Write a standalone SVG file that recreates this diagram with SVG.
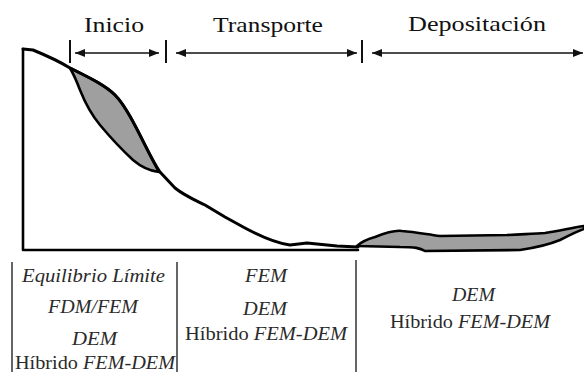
<svg xmlns="http://www.w3.org/2000/svg" width="584" height="372" viewBox="0 0 584 372">
<style>
.hdr{font-family:'Liberation Serif','Times New Roman','DejaVu Serif',serif;font-size:22px;fill:#111}
.lbl{font-family:'Liberation Serif','Times New Roman','DejaVu Serif',serif;font-size:18px;font-style:italic;fill:#2a2a2a}
.up{font-style:normal}
.ln{fill:none;stroke:#000;stroke-linecap:round;stroke-linejoin:round}
.arr{stroke:#111;stroke-width:1.6;fill:none}
.tick{stroke:#111;stroke-width:2}
.sep{stroke:#333;stroke-width:1.5}
.mass{fill:#9f9f9f;stroke:#000;stroke-width:2.6;stroke-linejoin:round}
</style>
<defs>
<marker id="ah" viewBox="0 0 10 8" refX="10" refY="4" markerWidth="10" markerHeight="8" markerUnits="userSpaceOnUse" orient="auto-start-reverse">
<path d="M0,0 L10,4 L0,8 Z" fill="#111"/>
</marker>
</defs>
<g id="profile">
<path class="mass" d="M70,68 C 90,78 105,85 115,95 C 125,105 135,125 145,145 C 150,155 155,165 159,172 C 150,171 140,166 133,160 C 120,148 110,137 100,125 C 90,113 84,100 80,90 C 77,82 74,75 70,68 Z"/>
<path class="mass" d="M357,246 C 362,241 368,239 375,237 C 385,233 395,230 402,231 C 415,232 425,234 440,236 L 507,235 C 525,234 535,234 545,233 C 560,231 570,228 584,226 L 584,229 C 578,231 572,234 560,240 C 548,245 540,247 520,250 L 425,251 C 420,248 415,247 400,247 Z"/>
<path class="ln" stroke-width="3" d="M23,49 L33,50 C 50,57 62,63 70,68 C 90,78 105,85 115,95 C 125,105 135,125 145,145 C 150,155 155,165 160,172 L 175,188 C 185,196 195,200 205,205 L 225,217 L 245,228 C 260,236 275,243 290,245 L 307,243 L 337,246 L 358,247"/>
<path class="ln" stroke-width="2.6" d="M23,49 L23,250 L358,250"/>
</g>
<g id="connectors">
<line class="tick" x1="70" y1="40" x2="70" y2="63"/>
<line class="tick" x1="166" y1="40" x2="166" y2="63"/>
<line class="tick" x1="362" y1="40" x2="362" y2="63"/>
<line class="arr" x1="75" y1="53" x2="159" y2="53" marker-start="url(#ah)" marker-end="url(#ah)"/>
<line class="arr" x1="176" y1="53" x2="357" y2="53" marker-start="url(#ah)" marker-end="url(#ah)"/>
<line class="arr" x1="372" y1="53" x2="583" y2="53" marker-start="url(#ah)" marker-end="url(#ah)"/>
<line class="sep" x1="12" y1="262" x2="12" y2="372"/>
<line class="sep" x1="177" y1="262" x2="177" y2="372"/>
<line class="sep" x1="356" y1="260" x2="356" y2="372"/>
</g>
<g id="stage-inicio">
<text class="hdr" x="84" y="32" textLength="60" lengthAdjust="spacingAndGlyphs">Inicio</text>
</g>
<g id="stage-transporte">
<text class="hdr" x="213" y="32" textLength="110" lengthAdjust="spacingAndGlyphs">Transporte</text>
</g>
<g id="stage-depositacion">
<text class="hdr" x="408" y="31" textLength="138" lengthAdjust="spacingAndGlyphs">Depositación</text>
</g>
<g id="methods-inicio">
<text class="lbl" x="22" y="282" textLength="143" lengthAdjust="spacingAndGlyphs">Equilibrio Límite</text>
<text class="lbl" x="48" y="313" textLength="90" lengthAdjust="spacingAndGlyphs">FDM/FEM</text>
<text class="lbl" x="72" y="345" textLength="45" lengthAdjust="spacingAndGlyphs">DEM</text>
<text class="lbl" x="15" y="369" textLength="160" lengthAdjust="spacingAndGlyphs"><tspan class="up">Híbrido</tspan> FEM-DEM</text>
</g>
<g id="methods-transporte">
<text class="lbl" x="245" y="282" textLength="42" lengthAdjust="spacingAndGlyphs">FEM</text>
<text class="lbl" x="243" y="315" textLength="44" lengthAdjust="spacingAndGlyphs">DEM</text>
<text class="lbl" x="185" y="340" textLength="162" lengthAdjust="spacingAndGlyphs"><tspan class="up">Híbrido</tspan> FEM-DEM</text>
</g>
<g id="methods-depositacion">
<text class="lbl" x="452" y="301" textLength="43" lengthAdjust="spacingAndGlyphs">DEM</text>
<text class="lbl" x="390" y="328" textLength="160" lengthAdjust="spacingAndGlyphs"><tspan class="up">Híbrido</tspan> FEM-DEM</text>
</g>
</svg>
